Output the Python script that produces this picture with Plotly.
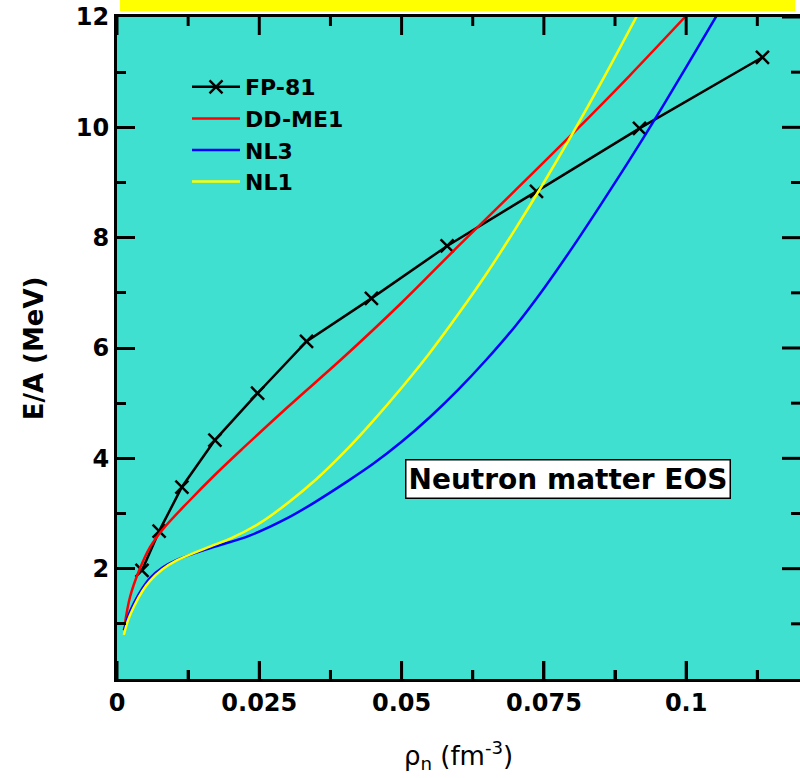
import plotly.graph_objects as go

# FP-81 (symbols + line)
fp_x = [0.0044, 0.0074, 0.0114, 0.0172, 0.0247, 0.0333, 0.0447, 0.0580, 0.0737, 0.0918, 0.1134]
fp_y = [1.97, 2.68, 3.48, 4.33, 5.18, 6.12, 6.90, 7.85, 8.84, 9.98, 11.27]

# DD-ME1
ddme1_x = [0.0014, 0.0023, 0.0039, 0.0058, 0.0081, 0.0128, 0.017, 0.022, 0.030, 0.040,
           0.050, 0.060, 0.070, 0.080, 0.090, 0.0998]
ddme1_y = [1.01, 1.49, 1.97, 2.39, 2.72, 3.24, 3.68, 4.17, 4.93, 5.85,
           6.82, 7.85, 8.86, 9.88, 10.93, 12.0]

# NL3
nl3_x = [0.0012, 0.002, 0.003, 0.0045, 0.0058, 0.008, 0.0105, 0.0163, 0.0233, 0.030,
         0.035, 0.040, 0.045, 0.050, 0.055, 0.060, 0.065, 0.070, 0.075, 0.080, 0.085,
         0.090, 0.095, 0.100, 0.1055]
nl3_y = [0.88, 1.15, 1.38, 1.65, 1.83, 2.02, 2.16, 2.37, 2.60, 2.92,
         3.22, 3.55, 3.90, 4.30, 4.75, 5.25, 5.80, 6.40, 7.08, 7.82, 8.60,
         9.40, 10.23, 11.09, 12.05]

# NL1
nl1_x = [0.0012, 0.002, 0.003, 0.0045, 0.0058, 0.008, 0.0105, 0.0163, 0.020, 0.025,
         0.030, 0.035, 0.040, 0.045, 0.050, 0.055, 0.060, 0.065, 0.070, 0.075, 0.080,
         0.085, 0.0915]
nl1_y = [0.80, 1.08, 1.32, 1.60, 1.78, 1.99, 2.15, 2.40, 2.55, 2.82,
         3.19, 3.62, 4.12, 4.68, 5.28, 5.92, 6.62, 7.36, 8.16, 9.00, 9.88,
         10.80, 12.05]

x_range = [0, 0.12]
y_range = [0, 12]
x_ticks = [0, 0.025, 0.05, 0.075, 0.1]
x_ticktext = ["0", "0.025", "0.05", "0.075", "0.1"]
x_minor = [0.0125, 0.0375, 0.0625, 0.0875, 0.1125]
y_ticks = [2, 4, 6, 8, 10, 12]
y_ticktext = ["2", "4", "6", "8", "10", "12"]
y_minor = [1, 3, 5, 7, 9, 11]

FONT = "DejaVu Sans"
TICKFONT = dict(family=FONT, size=24, color="black", weight="bold")
SPL = dict(shape="spline", smoothing=1.0)
MAJOR_LEN, MINOR_LEN, TICK_W = 18, 9, 3

fig = go.Figure()
fig.add_trace(go.Scatter(x=fp_x, y=fp_y, mode="lines+markers", name="FP-81",
                         line=dict(color="black", width=2.5),
                         marker=dict(symbol="x-thin", size=13, line=dict(color="black", width=2.5))))
fig.add_trace(go.Scatter(x=ddme1_x, y=ddme1_y, mode="lines", name="DD-ME1",
                         line=dict(color="#ff0000", width=2.5, **SPL)))
fig.add_trace(go.Scatter(x=nl3_x, y=nl3_y, mode="lines", name="NL3",
                         line=dict(color="#0000ff", width=2.5, **SPL)))
fig.add_trace(go.Scatter(x=nl1_x, y=nl1_y, mode="lines", name="NL1",
                         line=dict(color="#ffff00", width=2.5, **SPL)))

# tick marks on the top and bottom frame (x) and on the right frame (y), as pixel-sized shapes
tick_line = dict(color="black", width=TICK_W)
for xs, length in ((x_ticks, MAJOR_LEN), (x_minor, MINOR_LEN)):
    for xv in xs:
        for anchor, sign in ((1, -1), (0, 1)):
            fig.add_shape(type="line", xref="x", yref="paper", x0=xv, x1=xv,
                          ysizemode="pixel", yanchor=anchor, y0=0, y1=sign * length,
                          line=tick_line, layer="above")
for ys, length in ((y_ticks, MAJOR_LEN), (y_minor, MINOR_LEN)):
    for yv in ys:
        fig.add_shape(type="line", xref="paper", yref="y", y0=yv, y1=yv,
                      xsizemode="pixel", xanchor=1, x0=0, x1=-length,
                      line=tick_line, layer="above")

tick_common = dict(ticks="inside", ticklen=MAJOR_LEN, tickwidth=TICK_W, tickcolor="black",
                   showgrid=False, zeroline=False, automargin=False,
                   showline=True, linecolor="black", linewidth=3, mirror=True)

fig.update_layout(
    xaxis=dict(range=x_range, tickvals=x_ticks, ticktext=x_ticktext,
               minor=dict(ticks="inside", ticklen=MINOR_LEN, tickwidth=TICK_W, tickcolor="black",
                          tickvals=x_minor),
               tickfont=TICKFONT, **tick_common),
    yaxis=dict(range=y_range, tickvals=y_ticks, ticktext=y_ticktext,
               minor=dict(ticks="inside", ticklen=MINOR_LEN, tickwidth=TICK_W, tickcolor="black",
                          tickvals=y_minor),
               tickfont=TICKFONT, **tick_common),
)

# axis titles
fig.add_annotation(x=0.5, y=-0.115, xref="paper", yref="paper", showarrow=False,
                   text="ρ<sub>n</sub> (fm<sup>-3</sup>)", yanchor="middle",
                   font=dict(family=FONT, size=26, color="black"))
fig.add_annotation(x=-0.121, y=0.5, xref="paper", yref="paper", showarrow=False,
                   text="E/A (MeV)", textangle=-90, xanchor="center", yanchor="middle",
                   font=dict(family=FONT, size=26, color="black", weight="bold"))

fig.add_annotation(x=0.0793, y=3.62, xref="x", yref="y", text="Neutron matter EOS",
                   showarrow=False, bgcolor="white", bordercolor="black", borderwidth=1.5,
                   borderpad=2, font=dict(family=FONT, size=28, color="black", weight="bold"))

# yellow title bar (cut off at top of the picture)
fig.add_shape(type="rect", xref="paper", yref="paper", x0=0.0044, x1=0.9927,
              y0=1.009, y1=1.04, fillcolor="#ffff00", line=dict(width=0), layer="above")

fig.update_layout(
    width=800, height=778,
    margin=dict(l=117, r=0, t=17, b=99),
    plot_bgcolor="#40e0d0", paper_bgcolor="white",
    showlegend=True,
    legend=dict(x=0.1025, y=0.926, xanchor="left", yanchor="top", bgcolor="rgba(0,0,0,0)",
                borderwidth=0, tracegroupgap=0, itemwidth=48,
                font=dict(family=FONT, size=22, color="black", weight="bold")),
)

fig.write_html("out.html", config={"displayModeBar": False},
               post_script="document.body.style.margin='0';document.body.style.overflow='hidden';")
